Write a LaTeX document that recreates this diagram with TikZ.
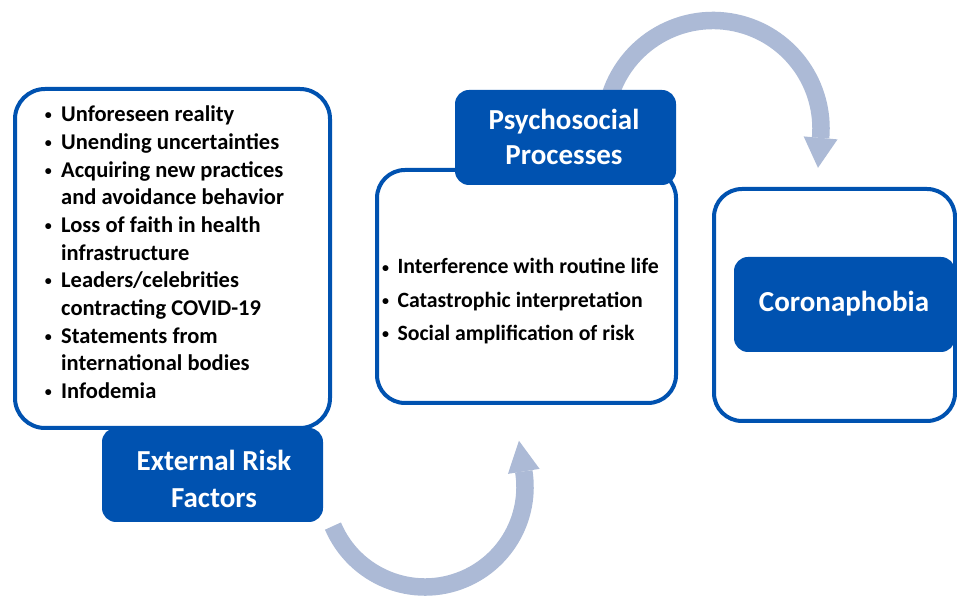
\documentclass[tikz,border=0pt]{standalone}
\usepackage{fontspec}
\setmainfont{Carlito}
\usetikzlibrary{calc}
\definecolor{boxblue}{RGB}{0,82,176}
\definecolor{arrowblue}{RGB}{172,186,214}
\begin{document}
\begin{tikzpicture}[x=1pt,y=1pt,
  frame/.style={draw=boxblue, line width=4pt, fill=white, inner sep=0pt},
  headbox/.style={fill=boxblue, draw=none, rounded corners=14pt, inner sep=0pt,
    minimum width=221pt},
  headtext/.style={anchor=base, inner sep=0pt, text=white,
    font=\fontsize{29}{35}\selectfont\bfseries},
  listtext/.style={anchor=base west, inner sep=0pt,
    font=\fontsize{22.5}{27}\selectfont\bfseries},
  psytext/.style={anchor=base west, inner sep=0pt,
    font=\fontsize{21.8}{27}\selectfont\bfseries},
  bullet/.style={anchor=base, inner sep=0pt,
    font=\fontsize{14}{17}\selectfont\bfseries},
  band/.style={draw=arrowblue, line width=17.5pt},
  tip/.style={fill=arrowblue}
]
\useasboundingbox[fill=white] (0,0) rectangle (957,596);

% circular arrows (drawn first, boxes sit on top)
\coordinate (botc) at (425,109);
\coordinate (topc) at (713,467.5);
\draw[band] ($(botc)+(203:100)$) arc[start angle=203, end angle=369, radius=100];
\fill[tip] ($(botc)+(9:116)$) -- ($(botc)+(9:100)+(99:31)$) -- ($(botc)+(9:84)$) -- cycle;
\draw[band] ($(topc)+(165:108)$) arc[start angle=165, end angle=-5, radius=108];
\fill[tip] ($(topc)+(-5:125)$) -- ($(topc)+(-5:108)+(-95:30)$) -- ($(topc)+(-5:91)$) -- cycle;

% external risk factors
\node[frame, rounded corners=30pt, minimum width=315pt, minimum height=339pt] (ext) at (172.5,337.5) {};
\node[headbox, minimum height=94pt] (exthead) at (212.5,121) {};
\node[headtext] (exth1) at (214,125.3) {External Risk};
\node[headtext] (exth2) at (214,88.7) {Factors};

\foreach \k/\b/\t in {
  0/1/{Unforeseen reality},
  1/1/{Unending uncertainties},
  2/1/{Acquiring new practices},
  3/0/{and avoidance behavior},
  4/1/{Loss of faith in health},
  5/0/{infrastructure},
  6/1/{Leaders/celebrities},
  7/0/{contracting COVID-19},
  8/1/{Statements from},
  9/0/{international bodies},
  10/1/{Infodemia}}{
  \node[listtext] (ext\k) at (61,474.3-27.7*\k) {\t};
  \ifnum\b=1 \node[bullet] (extb\k) at (48.3,476.2-27.7*\k) {•};\fi
}

% psychosocial processes
\node[frame, rounded corners=28pt, minimum width=299pt, minimum height=233pt] (psy) at (526.5,309.5) {};
\node[headbox, minimum height=95pt] (psyhead) at (565.5,458.5) {};
\node[headtext] (psyh1) at (564,466) {Psychosocial};
\node[headtext] (psyh2) at (564,431) {Processes};

\foreach \k/\t in {
  0/{Interference with routine life},
  1/{Catastrophic interpretation},
  2/{Social amplification of risk}}{
  \node[psytext] (psy\k) at (397.3,322-33.35*\k) {\t};
  \node[bullet] (psyb\k) at (385.5,323.9-33.35*\k) {•};
}

% coronaphobia
\node[frame, rounded corners=28pt, minimum width=241pt, minimum height=232pt] (cor) at (834.5,291) {};
\node[headbox, minimum height=95pt] (corhead) at (844.5,291.5) {};
\node[headtext] (corh) at (844,284.3) {Coronaphobia};
\end{tikzpicture}
\end{document}
